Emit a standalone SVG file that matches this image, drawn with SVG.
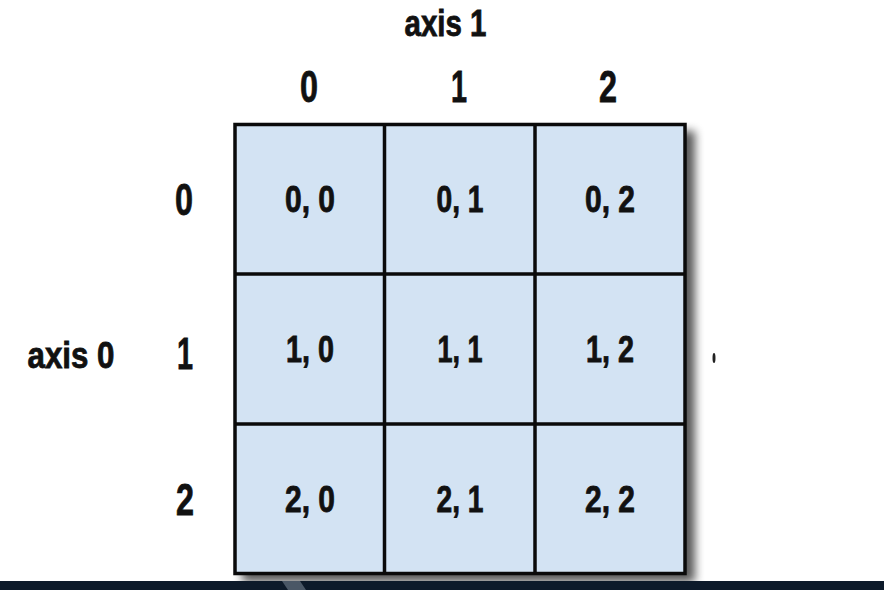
<svg xmlns="http://www.w3.org/2000/svg" width="884" height="590" viewBox="0 0 884 590">
  <style>
    .t { font-family: "Liberation Sans", Arial, sans-serif; font-weight: bold; fill: #111; stroke: #111; stroke-width: 0.8; text-anchor: middle; }
    .cell-t { font-size: 37px; }
    .lbl { font-size: 45px; }
    .ax { font-size: 37px; }
    .cell { fill: #d3e3f3; }
    .grid { fill: none; stroke: #0a0a0a; stroke-width: 3.5; }
  </style>
  <defs>
    <filter id="shadow" x="-10%" y="-10%" width="125%" height="125%">
      <feGaussianBlur stdDeviation="5"/>
    </filter>
  </defs>
  <rect x="0" y="0" width="884" height="590" fill="#ffffff"/>

  <!-- shadow -->
  <rect x="242" y="131" width="453" height="451" fill="#000" opacity="0.65" filter="url(#shadow)"/>

  <!-- cells -->
  <g id="cell-0-0"><rect class="cell" x="235" y="124.5" width="149.5" height="149.5"/><text class="t cell-t" x="310" y="212" textLength="50" lengthAdjust="spacingAndGlyphs">0, 0</text></g>
  <g id="cell-0-1"><rect class="cell" x="384.5" y="124.5" width="150.5" height="149.5"/><text class="t cell-t" x="460" y="212" textLength="47" lengthAdjust="spacingAndGlyphs">0, 1</text></g>
  <g id="cell-0-2"><rect class="cell" x="535" y="124.5" width="150" height="149.5"/><text class="t cell-t" x="610" y="212" textLength="50" lengthAdjust="spacingAndGlyphs">0, 2</text></g>
  <g id="cell-1-0"><rect class="cell" x="235" y="274" width="149.5" height="150"/><text class="t cell-t" x="310" y="362" textLength="48" lengthAdjust="spacingAndGlyphs">1, 0</text></g>
  <g id="cell-1-1"><rect class="cell" x="384.5" y="274" width="150.5" height="150"/><text class="t cell-t" x="460" y="362" textLength="45" lengthAdjust="spacingAndGlyphs">1, 1</text></g>
  <g id="cell-1-2"><rect class="cell" x="535" y="274" width="150" height="150"/><text class="t cell-t" x="610" y="362" textLength="48" lengthAdjust="spacingAndGlyphs">1, 2</text></g>
  <g id="cell-2-0"><rect class="cell" x="235" y="424" width="149.5" height="149.5"/><text class="t cell-t" x="310" y="512" textLength="50" lengthAdjust="spacingAndGlyphs">2, 0</text></g>
  <g id="cell-2-1"><rect class="cell" x="384.5" y="424" width="150.5" height="149.5"/><text class="t cell-t" x="460" y="512" textLength="47" lengthAdjust="spacingAndGlyphs">2, 1</text></g>
  <g id="cell-2-2"><rect class="cell" x="535" y="424" width="150" height="149.5"/><text class="t cell-t" x="610" y="512" textLength="50" lengthAdjust="spacingAndGlyphs">2, 2</text></g>

  <!-- grid lines -->
  <g id="connectors">
    <rect class="grid" x="235" y="124.5" width="450" height="449"/>
    <line class="grid" x1="384.5" y1="124.5" x2="384.5" y2="573.5"/>
    <line class="grid" x1="535" y1="124.5" x2="535" y2="573.5"/>
    <line class="grid" x1="235" y1="274" x2="685" y2="274"/>
    <line class="grid" x1="235" y1="424" x2="685" y2="424"/>
  </g>

  <!-- labels -->
  <g id="axis1-label"><text class="t ax" x="445.5" y="36" textLength="82" lengthAdjust="spacingAndGlyphs">axis 1</text></g>
  <g id="axis0-label"><text class="t ax" x="71" y="368" textLength="87" lengthAdjust="spacingAndGlyphs">axis 0</text></g>
  <g id="col-labels">
    <text class="t lbl" x="309" y="102" textLength="18" lengthAdjust="spacingAndGlyphs">0</text>
    <text class="t lbl" x="459" y="102" textLength="16" lengthAdjust="spacingAndGlyphs">1</text>
    <text class="t lbl" x="608" y="102" textLength="18" lengthAdjust="spacingAndGlyphs">2</text>
  </g>
  <g id="row-labels">
    <text class="t lbl" x="184" y="215" textLength="18" lengthAdjust="spacingAndGlyphs">0</text>
    <text class="t lbl" x="185" y="369" textLength="16" lengthAdjust="spacingAndGlyphs">1</text>
    <text class="t lbl" x="185" y="515" textLength="18" lengthAdjust="spacingAndGlyphs">2</text>
  </g>

  <!-- clipped fragment at right -->
  <ellipse cx="714" cy="358" rx="1.5" ry="5" fill="#222"/>

  <!-- dark bar at bottom -->
  <rect x="0" y="581" width="884" height="9" fill="#0d1a2a"/>
  <path d="M 282 581 L 300 581 L 306 590 L 288 590 Z" fill="#5a6676" opacity="0.8"/>
</svg>
